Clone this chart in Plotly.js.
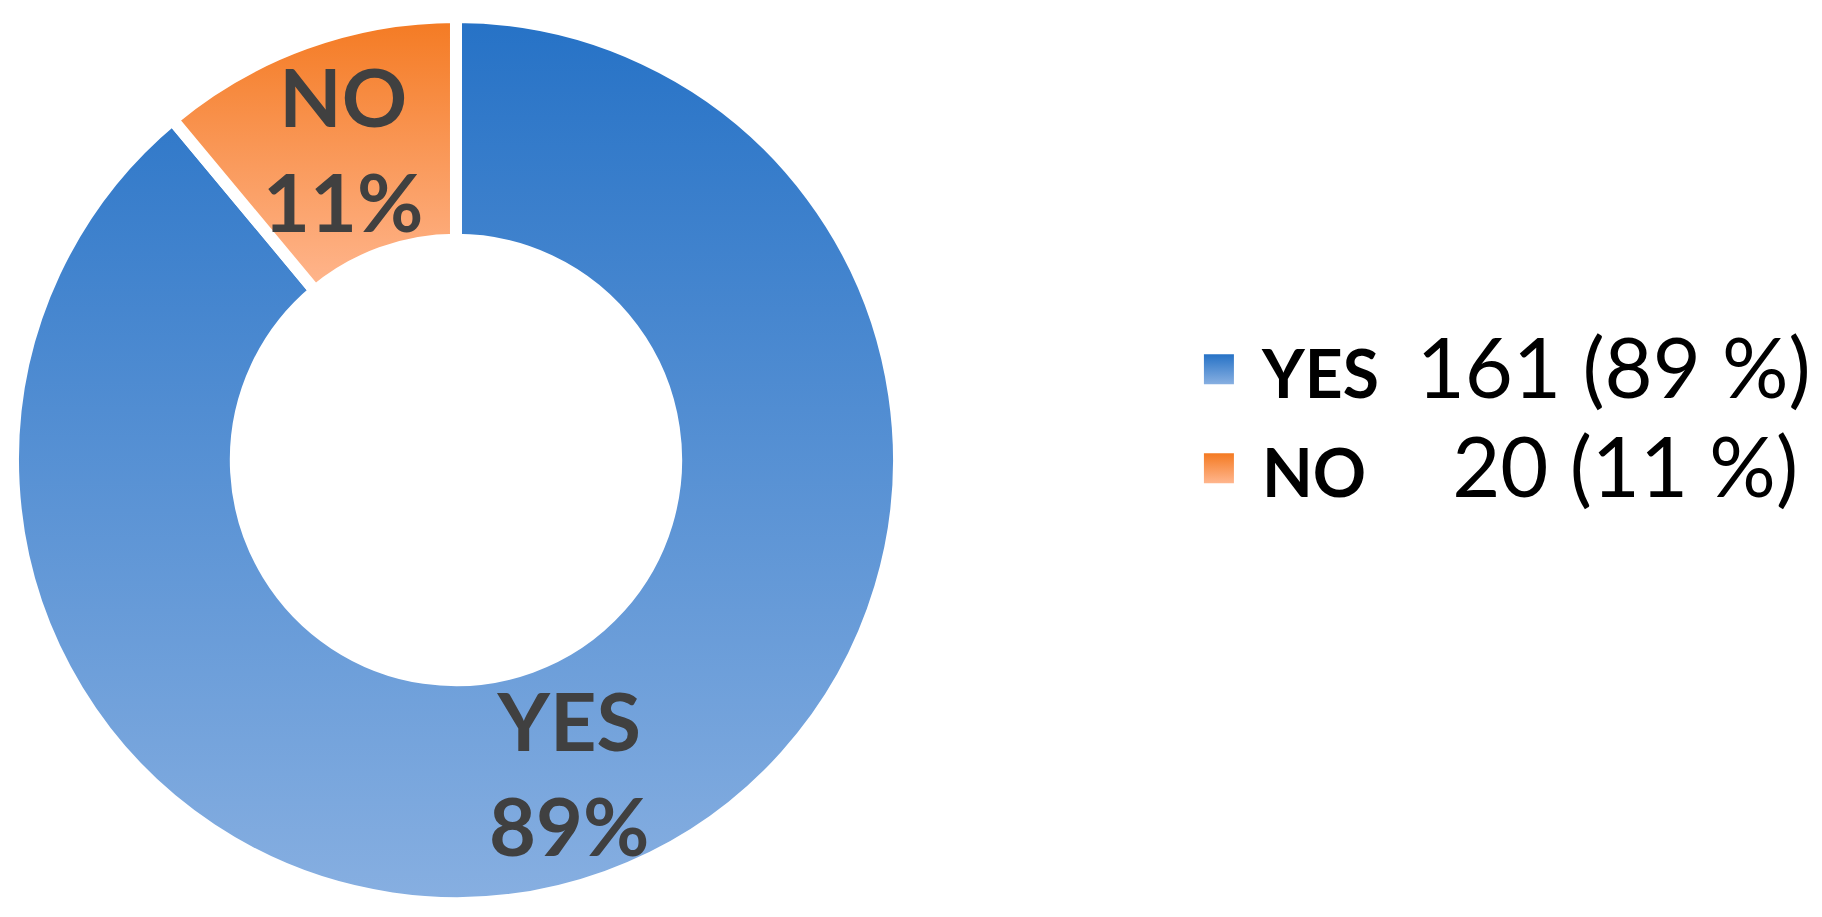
<!DOCTYPE html>
<html>
<head>
<meta charset="utf-8">
<script src="https://cdn.plot.ly/plotly-3.0.1.min.js"></script>
<style>
  html, body { margin: 0; padding: 0; background: #ffffff; }
  #chart { width: 1822px; height: 917px; }
</style>
</head>
<body>
<div id="chart"></div>
<script>
// answers
const labels = ['YES', 'NO'];
const counts = [161, 20];

// gradient stops per slice (top -> bottom), Excel-like fill
const topColors = ['#2672c6', '#f47a22'];
const bottomColors = ['#87afe1', '#ffb68e'];

const W = 1822, H = 917;
const pieDomainX = [0.00713, 0.4934];
const pieDomainY = [0.01527, 0.98146];
const hole = 0.497;

const total = counts.reduce((a, b) => a + b, 0);
const pct = counts.map(c => Math.round(100 * c / total));

// legend text: bold name, then the count and share, right-aligned with figure spaces
const countText = counts.map((c, i) => c + ' (' + pct[i] + ' %)');
const maxLen = Math.max(...countText.map(s => s.length));
const legendNames = labels.map((lab, i) =>
  '<span style="font-size:66px;font-weight:bold">' + lab + '</span>' +
  '\u00a0\u00a0' +
  '<span style="font-size:83px">' + '\u2007'.repeat(maxLen - countText[i].length) + countText[i] + '</span>'
);

// slice labels sit at the middle of each ring segment (Plotly would shrink them to fit)
const cxPx = (pieDomainX[0] + pieDomainX[1]) / 2 * W;
const cyPx = (pieDomainY[0] + pieDomainY[1]) / 2 * H;
const rPx = Math.min((pieDomainX[1] - pieDomainX[0]) * W, (pieDomainY[1] - pieDomainY[0]) * H) / 2;
const rMid = rPx * (1 + hole) / 2;
let cum = 0;
const annotations = counts.map((c, i) => {
  const mid = (cum + c / 2) / total * 2 * Math.PI;
  cum += c;
  return {
    xref: 'paper', yref: 'paper',
    x: (cxPx + rMid * Math.sin(mid)) / W,
    y: (cyPx + rMid * Math.cos(mid)) / H,
    xanchor: 'center', yanchor: 'middle',
    text: '<b>' + labels[i] + '<br>' + pct[i] + '%</b>',
    showarrow: false,
    font: { family: 'Lato', size: 81, color: '#404040' }
  };
});

const trace = {
  type: 'pie',
  labels: legendNames,
  values: counts,
  hole: hole,
  sort: false,
  direction: 'clockwise',
  rotation: 0,
  marker: {
    colors: ['#5b93d4', '#fb9a5a'],
    line: { color: '#ffffff', width: 12 }
  },
  textposition: 'none',
  domain: { x: pieDomainX, y: pieDomainY },
  hoverinfo: 'none'
};

const layout = {
  width: W,
  height: H,
  margin: { l: 0, r: 0, t: 0, b: 0 },
  paper_bgcolor: '#ffffff',
  showlegend: true,
  annotations: annotations,
  legend: {
    x: 0.6454,
    y: 0.543,
    xanchor: 'left',
    yanchor: 'middle',
    itemwidth: 76,
    font: { family: 'Lato', size: 74, color: '#000000' }
  }
};

function addGradients(gd) {
  const svg = gd.querySelector('.main-svg');
  const ns = 'http://www.w3.org/2000/svg';
  let defs = svg.querySelector('defs');
  if (!defs) { defs = document.createElementNS(ns, 'defs'); svg.prepend(defs); }
  labels.forEach((lab, i) => {
    const g = document.createElementNS(ns, 'linearGradient');
    g.setAttribute('id', 'grad' + i);
    g.setAttribute('x1', '0'); g.setAttribute('y1', '0');
    g.setAttribute('x2', '0'); g.setAttribute('y2', '1');
    [[0, topColors[i]], [1, bottomColors[i]]].forEach(([o, c]) => {
      const s = document.createElementNS(ns, 'stop');
      s.setAttribute('offset', o);
      s.setAttribute('stop-color', c);
      g.appendChild(s);
    });
    defs.appendChild(g);
  });

  gd.querySelectorAll('g.slice').forEach(sl => {
    const i = sl.__data__.i;
    sl.querySelector('path.surface').style.fill = 'url(#grad' + i + ')';
  });

  // bigger square legend keys with the same gradient (keep plotly's translate)
  gd.querySelectorAll('.legend g.traces').forEach(tr => {
    const i = tr.__data__[0].i;
    const p = tr.querySelector('.legendpoints path');
    if (!p) return;
    p.setAttribute('d', 'M15,15H-15V-15H15Z');
    p.style.fill = 'url(#grad' + i + ')';
    p.style.strokeWidth = '0';
  });
}

Plotly.newPlot('chart', [trace], layout, { displayModeBar: false, staticPlot: true })
  .then(addGradients);
</script>
</body>
</html>
